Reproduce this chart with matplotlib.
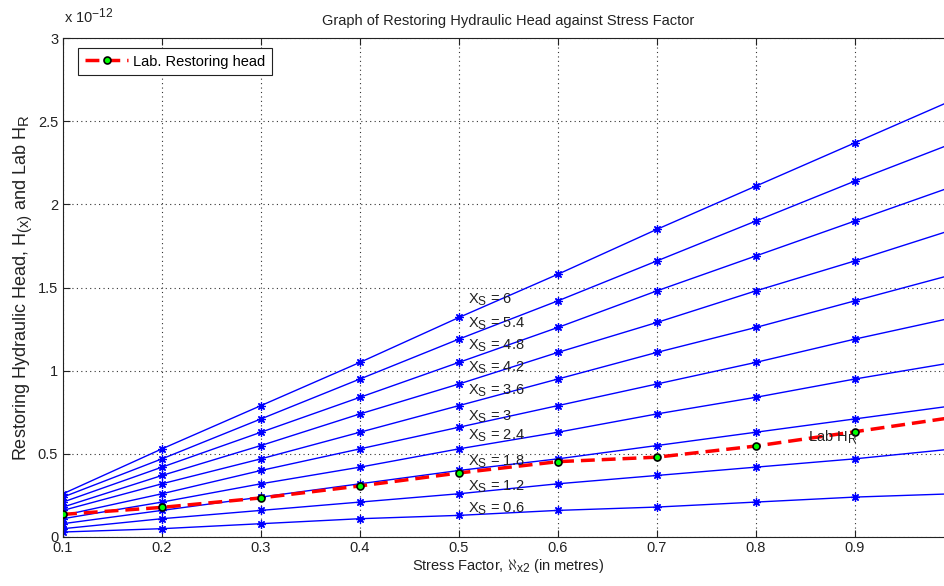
import numpy as np
import matplotlib.pyplot as plt
import matplotlib._mathtext as mathtext_internal
from matplotlib.ticker import FuncFormatter

# MATLAB-style subscripts are larger than mathtext's default
mathtext_internal.SHRINK_FACTOR = 0.82

plt.rcParams['font.family'] = ['Liberation Sans', 'DejaVu Sans']
plt.rcParams['mathtext.fontset'] = 'custom'
plt.rcParams['mathtext.rm'] = 'Liberation Sans'
plt.rcParams['mathtext.it'] = 'Liberation Sans'

# stress factor (m)
stress = [0.1, 0.2, 0.3, 0.4, 0.5, 0.6, 0.7, 0.8, 0.9, 1.0]
xs_values = [6, 5.4, 4.8, 4.2, 3.6, 3, 2.4, 1.8, 1.2, 0.6]

# restoring head, units of 1e-12
h_6 = [0.26, 0.53, 0.79, 1.05, 1.32, 1.58, 1.85, 2.11, 2.37, 2.63]
h_54 = [0.24, 0.47, 0.71, 0.95, 1.19, 1.42, 1.66, 1.90, 2.14, 2.37]
h_48 = [0.21, 0.42, 0.63, 0.84, 1.05, 1.26, 1.48, 1.69, 1.90, 2.11]
h_42 = [0.18, 0.37, 0.55, 0.74, 0.92, 1.11, 1.29, 1.48, 1.66, 1.85]
h_36 = [0.16, 0.32, 0.47, 0.63, 0.79, 0.95, 1.11, 1.26, 1.42, 1.58]
h_30 = [0.13, 0.26, 0.40, 0.53, 0.66, 0.79, 0.92, 1.05, 1.19, 1.32]
h_24 = [0.11, 0.21, 0.32, 0.42, 0.53, 0.63, 0.74, 0.84, 0.95, 1.05]
h_18 = [0.08, 0.16, 0.24, 0.32, 0.40, 0.47, 0.55, 0.63, 0.71, 0.79]
h_12 = [0.05, 0.11, 0.16, 0.21, 0.26, 0.32, 0.37, 0.42, 0.47, 0.53]
h_06 = [0.03, 0.05, 0.08, 0.11, 0.13, 0.16, 0.18, 0.21, 0.24, 0.26]
curves = [h_6, h_54, h_48, h_42, h_36, h_30, h_24, h_18, h_12, h_06]

# lab measured restoring head, units of 1e-12
lab_head = [0.136, 0.178, 0.235, 0.307, 0.385, 0.453, 0.48, 0.547, 0.633, 0.72]

# label positions (units of 1e-12)
label_y = [1.425, 1.28, 1.15, 1.016, 0.878, 0.72, 0.607, 0.45, 0.30, 0.168]

scale = 1e-12
fs = 10.5
tc = '#222222'

fig = plt.figure(figsize=(9.44, 5.86), dpi=100)
ax = fig.add_axes([63/944, 49/586, 891/944, 499/586])

for h in curves:
    ax.plot(stress, np.array(h)*scale, color=(0, 0, 1), lw=1.0,
            marker=(8, 2, 0), ms=6, mew=0.9, zorder=2)

ax.plot(stress, np.array(lab_head)*scale, color='red', lw=2.5, ls=(0, (4, 2)),
        marker='o', ms=5, mfc=(0, 1, 0), mec='black', mew=1.2,
        label='Lab. Restoring head', zorder=3)

for xs, yl in zip(xs_values, label_y):
    ax.text(0.509, yl*scale, 'X$_S$ = %g' % xs, fontsize=fs, va='center',
            ha='left', color=tc, zorder=4)
ax.text(0.853, 0.60*scale, 'Lab H$_R$', fontsize=fs, va='center', ha='left',
        color=tc, zorder=4)

ax.set_xlim(0.1, 1.0)
ax.set_ylim(0, 3*scale)
ax.set_xticks(np.arange(0.1, 1.01, 0.1))
ax.set_yticks(np.arange(0, 3.01, 0.5)*scale)
ax.xaxis.set_major_formatter(FuncFormatter(
    lambda v, p: '' if v > 0.95 else '%g' % round(v, 2)))
ax.yaxis.set_major_formatter(FuncFormatter(lambda v, p: '%g' % round(v/scale, 2)))
ax.tick_params(direction='in', length=5, top=True, right=True, labelsize=fs,
               colors=tc, width=0.8)
ax.tick_params(axis='x', pad=3)
ax.grid(True, ls=(0, (1, 3)), color='#333333', lw=0.8)
for s in ax.spines.values():
    s.set_color(tc)
    s.set_linewidth(0.8)

fig.text(64/944, 1 - 16/586, 'x 10$^{-12}$', fontsize=fs, va='center',
         ha='left', color=tc)

ax.set_title('Graph of Restoring Hydraulic Head against Stress Factor',
             fontsize=fs, pad=9, color=tc)
ax.set_xlabel(r'Stress Factor, $\aleph_{x2}$ (in metres)', fontsize=fs,
              labelpad=1, color=tc)
ax.set_ylabel('Restoring Hydraulic Head, H$_{(x)}$ and Lab H$_R$', fontsize=13,
              labelpad=3, color=tc)

leg = ax.legend(loc='upper left', bbox_to_anchor=(0.017, 0.98), fontsize=fs,
                fancybox=False, edgecolor=tc, framealpha=1, borderaxespad=0,
                handlelength=3, borderpad=0.45, handletextpad=0.3)
leg.get_frame().set_linewidth(0.8)

fig.savefig('out.png', dpi=100)
